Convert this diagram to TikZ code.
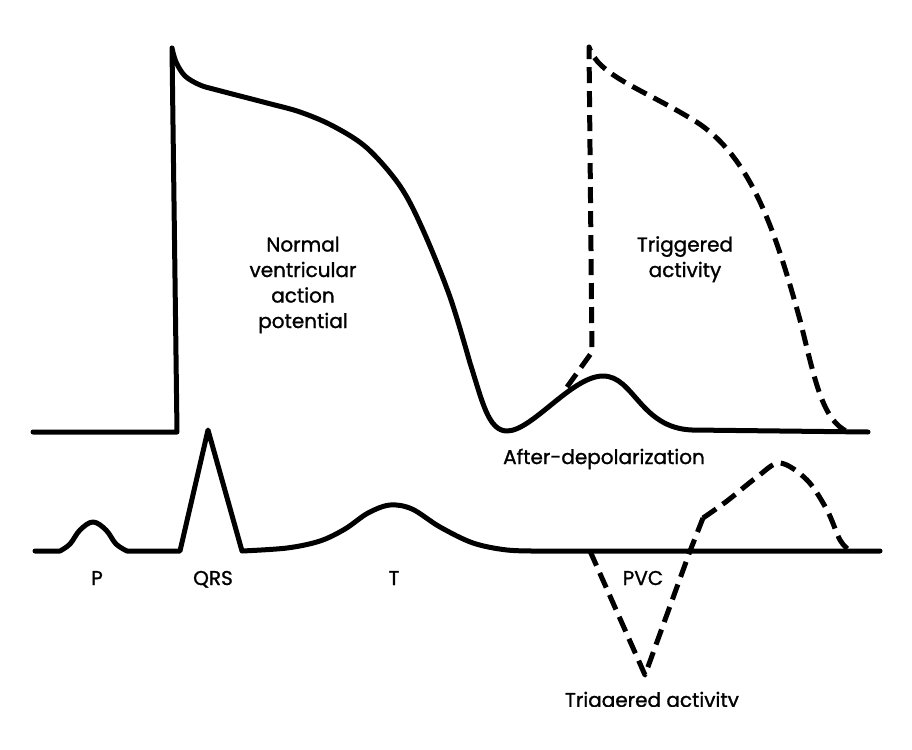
\documentclass[tikz,border=0pt]{standalone}
\usepackage{fontspec}
\setmainfont{Poppins}[FakeBold=1.2]
\begin{document}
\begin{tikzpicture}[x=1pt,y=-1pt,
  trace/.style={line width=5pt,line join=round,line cap=round},
  dtrace/.style={line width=5pt,line join=round,dash pattern=on 16pt off 8pt},
  lbl/.style={font=\fontsize{20}{25.5}\selectfont,inner sep=0pt,anchor=base,align=center}]
\useasboundingbox[fill=white] (0,0) rectangle (912,749);
% action potential
\draw[trace] (33,432) -- (177,432) -- (172,48)
  plot[smooth,tension=0.55] coordinates {(172,48) (176,62) (185,76) (200,85) (217,90) (267,103) (300,112) (333,126) (367,148) (400,186) (423,230) (450,297) (470,363)}
  .. controls (482,400) and (488,431) .. (507,431)
  .. controls (532,431) and (572,376) .. (603,376)
  .. controls (634,376) and (640,428) .. (692,430)
  -- (868,432);
% triggered action potential
\draw[dtrace] (567,387) -- (592,352) -- (589,47)
  .. controls (598,75) and (640,88) .. (690,118)
  .. controls (750,152) and (775,230) .. (800,320)
  .. controls (815,380) and (822,420) .. (848,432);
% ECG
\draw[trace] (35,551) -- (60,551)
  plot[smooth,tension=0.6] coordinates {(60,551) (70,544) (80,530) (93,522) (106,530) (116,544) (127,551)}
  -- (180,551) -- (208,430) -- (242,551)
  plot[smooth,tension=0.55] coordinates {(242,551) (287,548) (320,541) (345,529) (368,513) (390,505) (412,509) (440,527) (473,543) (507,550) (540,551)}
  -- (880,551);
% PVC
\draw[dtrace] (590,551) -- (645,675) -- (690,551) -- (703,518)
  plot[smooth,tension=0.55] coordinates {(703,518) (727,501) (757,477) (780,463) (807,480) (827,510) (840,540) (850,551)};
% labels
\node[lbl] (nap) at (303,328) {Normal\\ventricular\\action\\potential};
\node[lbl] (tap) at (685,277) {Triggered\\activity};
\node[lbl] (ad) at (604,464) {After-depolarization};
\node[lbl] (p) at (97,585) {P};
\node[lbl] (qrs) at (213,585) {QRS};
\node[lbl] (t) at (394,585) {T};
\node[lbl] (pvc) at (643,585) {PVC};
\begin{scope}
\clip (400,600) rectangle (900,706);
\node[lbl] (tr) at (652,707) {Triggered activity};
\end{scope}
\end{tikzpicture}
\end{document}
